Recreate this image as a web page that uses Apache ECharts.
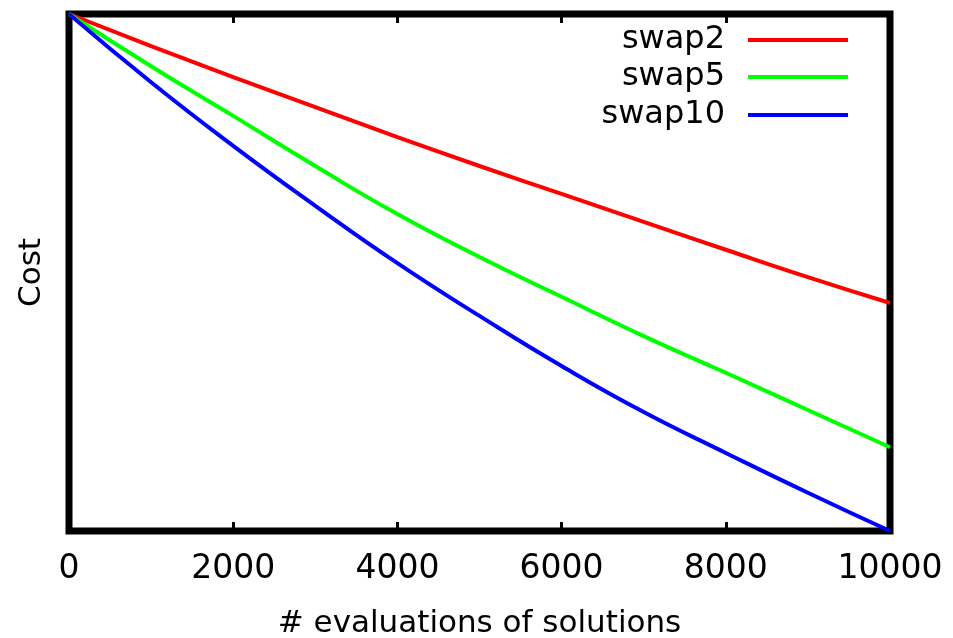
<!DOCTYPE html>
<html>
<head>
<meta charset="utf-8">
<script src="https://cdn.jsdelivr.net/npm/echarts@6/dist/echarts.min.js"></script>
<style>html,body{margin:0;padding:0;background:#fff;}#c{width:953px;height:638px;}</style>
</head>
<body>
<div id="c"></div>
<script>
const evaluations = [0, 1000, 2000, 3000, 4000, 5000, 6000, 7000, 8000, 9000, 10000];
const swap2  = [100, 93.8, 87.8, 82.0, 76.2, 70.6, 65.2, 59.8, 54.4, 49.1, 44.1];
const swap5  = [100, 89.9, 80.3, 70.6, 61.3, 53.0, 45.3, 37.7, 30.6, 23.4, 16.2];
const swap10 = [100, 86.8, 74.5, 62.9, 51.8, 41.6, 31.9, 23.0, 15.1, 7.4, 0];
const seriesNames = ['swap2', 'swap5', 'swap10'];
const seriesColors = ['#ff0000', '#00ff00', '#0000ff'];
const xTicks = { min: 0, max: 10000, interval: 2000 };

const FONT = '"DejaVu Sans", sans-serif';
const chart = echarts.init(document.getElementById('c'));
const allData = [swap2, swap5, swap10];

const axisCommon = {
  type: 'value', min: xTicks.min, max: xTicks.max, interval: xTicks.interval,
  axisLine: { show: false },
  axisTick: { show: true, inside: true, length: 9, lineStyle: { color: '#000', width: 3 } },
  splitLine: { show: false }
};

const legendTops = [24, 61, 99];
chart.setOption({
  animation: false,
  backgroundColor: '#fff',
  grid: { left: 69, right: 63, top: 14, bottom: 107, containLabel: false, outerBoundsMode: 'none',
          show: true, borderColor: '#000', borderWidth: 7, backgroundColor: 'transparent' },
  legend: seriesNames.map((n, i) => ({
    data: [n], orient: 'vertical', right: 105, top: legendTops[i], align: 'right',
    icon: 'rect', itemWidth: 100, itemHeight: 4, padding: 0,
    textStyle: { fontFamily: FONT, fontSize: 32, color: '#000', padding: [0, 18, 0, 0] }
  })),
  xAxis: [
    Object.assign({}, axisCommon, {
      position: 'bottom',
      axisLabel: { show: true, margin: 22, fontFamily: FONT, fontSize: 33, color: '#000', formatter: v => String(v) },
      name: '# evaluations of solutions', nameLocation: 'middle', nameGap: 77,
      nameTextStyle: { fontFamily: FONT, fontSize: 31, color: '#000' }
    }),
    Object.assign({}, axisCommon, { position: 'top', axisLabel: { show: false } })
  ],
  yAxis: {
    type: 'value', min: 0, max: 100,
    axisLine: { show: false }, axisTick: { show: false }, axisLabel: { show: false }, splitLine: { show: false },
    name: 'Cost', nameLocation: 'middle', nameRotate: 90, nameGap: 22,
    nameTextStyle: { fontFamily: FONT, fontSize: 31, color: '#000' }
  },
  series: seriesNames.map((n, i) => ({
    name: n, type: 'line', xAxisIndex: 0, showSymbol: false, symbol: 'none', smooth: true,
    lineStyle: { color: seriesColors[i], width: 4 }, itemStyle: { color: seriesColors[i] },
    data: evaluations.map((x, j) => [x, allData[i][j]])
  }))
});
</script>
</body>
</html>
